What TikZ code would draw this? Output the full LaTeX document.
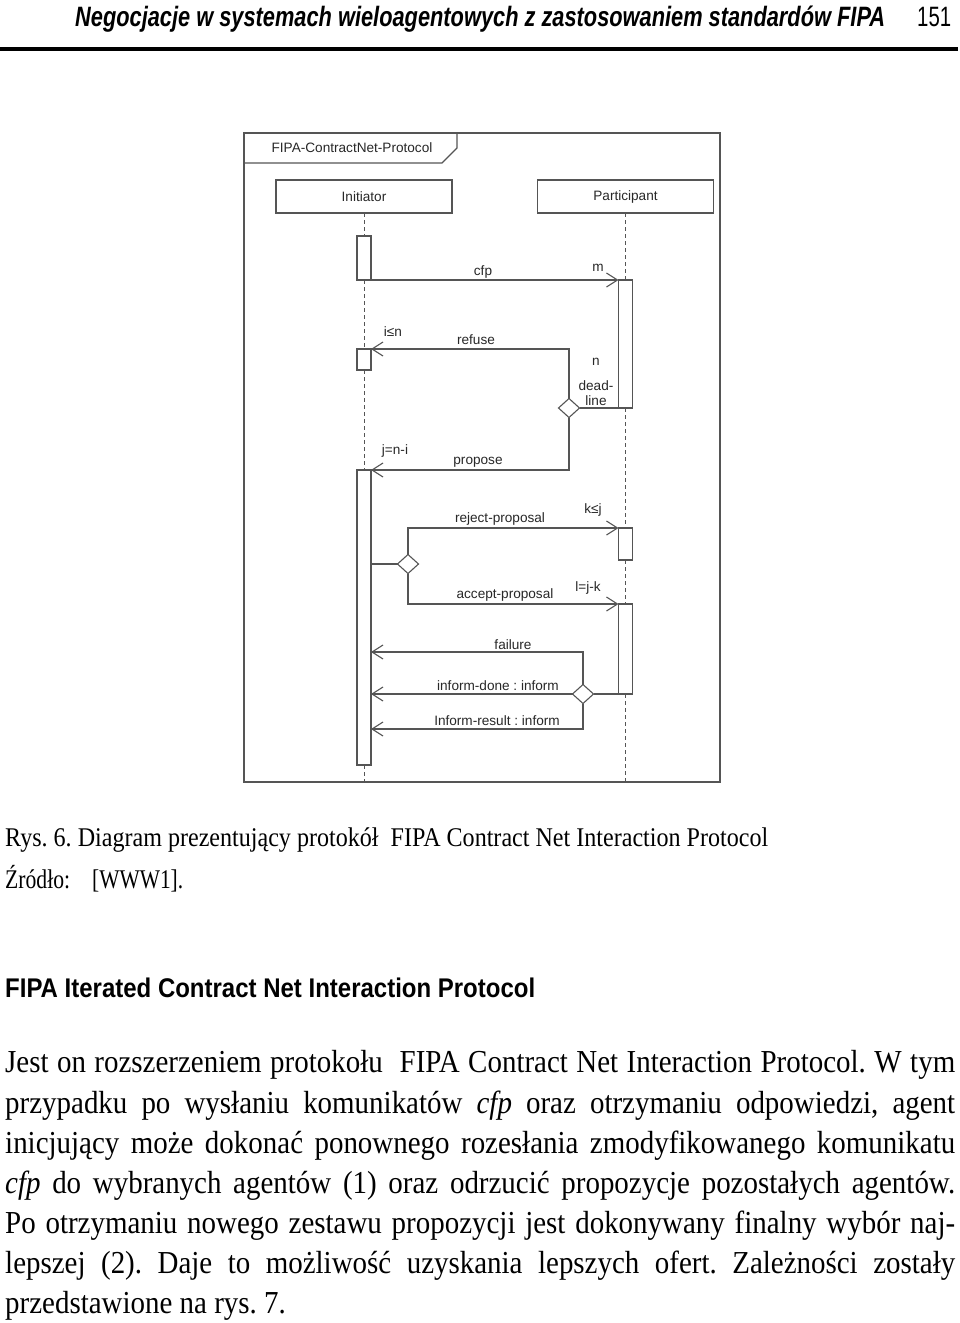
\documentclass[tikz,border=0pt]{standalone}
\usepackage{fontspec}
\usepackage{graphicx}
\setmainfont{Liberation Serif}
\setsansfont{Liberation Sans}
\newfontfamily\bodyfont[FakeStretch=0.905]{Liberation Serif}
\usetikzlibrary{arrows.meta,shapes.geometric}
\definecolor{lc}{RGB}{85,85,85}
\definecolor{tc}{RGB}{40,40,40}
\newcommand\fitw[2]{\resizebox{#1}{\height}{#2}}
\newcommand\diafont{\fontsize{13.6}{15}\selectfont\sffamily}
\newcommand\bodyf{\bodyfont\fontsize{32}{38}\selectfont}
\frenchspacing
\begin{document}
\begin{tikzpicture}[x=1pt,y=-1pt,
  dline/.style={draw=lc, line width=1.1pt},
  bar/.style={draw=lc, line width=1.1pt, fill=white, minimum width=14pt, inner sep=0, outer sep=0, anchor=north},
  lifebox/.style={draw=lc, line width=1.1pt, minimum width=176pt, minimum height=33pt, inner sep=0, outer sep=0, font=\diafont, text=tc},
  life/.style={draw=lc, line width=1pt, dash pattern=on 4pt off 3pt},
  msg/.style={draw=lc, line width=1.1pt, -{Straight Barb[length=11pt,width=14pt]}},
  dec/.style={diamond, draw=lc, line width=1.1pt, fill=white, minimum width=21pt, minimum height=19pt, inner sep=0, outer sep=0},
  lbl/.style={font=\diafont, text=tc, inner sep=0},
  body/.style={anchor=base west, inner sep=0, font=\bodyf},
  txt/.style={anchor=base west, inner sep=0}]
\useasboundingbox (0,0) rectangle (960,1323);
\fill[white] (0,0) rectangle (960,1323);

% header
\node[txt] (hdr) at (75,26) {\fitw{810pt}{\fontsize{28}{30}\selectfont\sffamily\bfseries\itshape Negocjacje w systemach wieloagentowych z zastosowaniem standardów FIPA}};
\node[txt] (pg) at (917,26) {\fitw{34pt}{\fontsize{28}{30}\selectfont\sffamily 151}};
\draw[line width=3.5pt] (0,49) -- (958,49);

% diagram frame
\node[draw=lc, line width=1.3pt, minimum width=476pt, minimum height=649pt, anchor=north west, inner sep=0, outer sep=0] (frame) at (244,133) {};
\draw[dline] (244,163) -- (442,163) -- (457,148) -- (457,133);
\node[lbl] (tab) at (352,148) {FIPA-ContractNet-Protocol};

% lifeline heads
\node[lifebox] (ibox) at (364,196.5) {Initiator};
\node[lifebox] (pbox) at (625.5,196.5) {Participant};

% activation bars
\node[bar, minimum height=44pt] (ib1) at (364,236) {};
\node[bar, minimum height=21pt] (ib2) at (364,349) {};
\node[bar, minimum height=295pt] (ib3) at (364,470) {};
\node[bar, minimum height=128pt] (pb1) at (625.5,280) {};
\node[bar, minimum height=32pt] (pb2) at (625.5,528) {};
\node[bar, minimum height=90pt] (pb3) at (625.5,604) {};

% lifelines
\draw[life] (ibox.south) -- (ib1.north);
\draw[life] (ib1.south) -- (ib2.north);
\draw[life] (ib2.south) -- (ib3.north);
\draw[life] (ib3.south) -- (ib3.south |- frame.south);
\draw[life] (pbox.south) -- (pb1.north);
\draw[life] (pb1.south) -- (pb2.north);
\draw[life] (pb2.south) -- (pb3.north);
\draw[life] (pb3.south) -- (pb3.south |- frame.south);

% decisions
\node[dec] (d1) at (569,408) {};
\node[dec] (d2) at (408,564) {};
\node[dec] (d3) at (583,694) {};

% messages
\draw[msg] (ib1.south east) -- (pb1.north west);
\draw[dline] (pb1.south west) -- (d1.east);
\draw[msg] (d1.north) |- (ib2.north east);
\draw[msg] (d1.south) |- (ib3.north east);
\draw[dline] (ib3.east |- d2.west) -- (d2.west);
\draw[msg] (d2.north) |- (pb2.north west);
\draw[msg] (d2.south) |- (pb3.north west);
\draw[dline] (pb3.south west) -- (d3.east);
\coordinate (fy) at (583,652);
\coordinate (ry) at (583,729);
\draw[msg] (d3.north) -- (fy) -- (fy -| ib3.east);
\draw[msg] (d3.west) -- (d3.west -| ib3.east);
\draw[msg] (d3.south) -- (ry) -- (ry -| ib3.east);

% labels
\node[lbl] (lcfp) at (483,272) {cfp};
\node[lbl] (lm) at (598,268) {m};
\node[lbl] (lin) at (393,332) {i≤n};
\node[lbl] (lref) at (476,340) {refuse};
\node[lbl] (ln) at (596,362) {n};
\node[lbl] (ldead) at (596,386) {dead-};
\node[lbl] (lline) at (596,401) {line};
\node[lbl] (lj) at (395,451) {j=n-i};
\node[lbl] (lprop) at (478,462) {propose};
\node[lbl] (lrej) at (500,519) {reject-proposal};
\node[lbl] (lk) at (593,510) {k≤j};
\node[lbl] (lacc) at (505,595) {accept-proposal};
\node[lbl] (ll) at (588,588) {l=j-k};
\node[lbl] (lfail) at (513,645) {failure};
\node[lbl] (ldone) at (498,686) {inform-done : inform};
\node[lbl] (lres) at (497,721) {Inform-result : inform};

% caption
\node[txt] (cap) at (5,846) {\fitw{763pt}{\bodyfont\fontsize{27}{30}\selectfont Rys. 6. Diagram prezentujący protokół\ \ FIPA Contract Net Interaction Protocol}};
\node[txt] (src1) at (5,888) {\fitw{65pt}{\bodyfont\fontsize{27}{30}\selectfont Źródło:}};
\node[txt] (src2) at (92,888) {\fitw{91pt}{\bodyfont\fontsize{27}{30}\selectfont [WWW1].}};

% heading
\node[txt] (head) at (5,997) {\fitw{530pt}{\fontsize{27}{30}\selectfont\sffamily\bfseries FIPA Iterated Contract Net Interaction Protocol}};

% body
\node[body] (b1) at (5,1072) {\makebox[950pt][s]{Jest on rozszerzeniem protokołu\ \ FIPA Contract Net Interaction Protocol. W tym}};
\node[body] (b2) at (5,1113) {\makebox[950pt][s]{przypadku po wysłaniu komunikatów \textit{cfp} oraz otrzymaniu odpowiedzi, agent}};
\node[body] (b3) at (5,1153) {\makebox[950pt][s]{inicjujący może dokonać ponownego rozesłania zmodyfikowanego komunikatu}};
\node[body] (b4) at (5,1193) {\makebox[950pt][s]{\textit{cfp} do wybranych agentów (1) oraz odrzucić propozycje pozostałych agentów.}};
\node[body] (b5) at (5,1233) {\makebox[950pt][s]{Po otrzymaniu nowego zestawu propozycji jest dokonywany finalny wybór naj-}};
\node[body] (b6) at (5,1273) {\makebox[950pt][s]{lepszej (2). Daje to możliwość uzyskania lepszych ofert. Zależności zostały}};
\node[body] (b7) at (5,1313) {przedstawione na rys. 7.};
\end{tikzpicture}
\end{document}
